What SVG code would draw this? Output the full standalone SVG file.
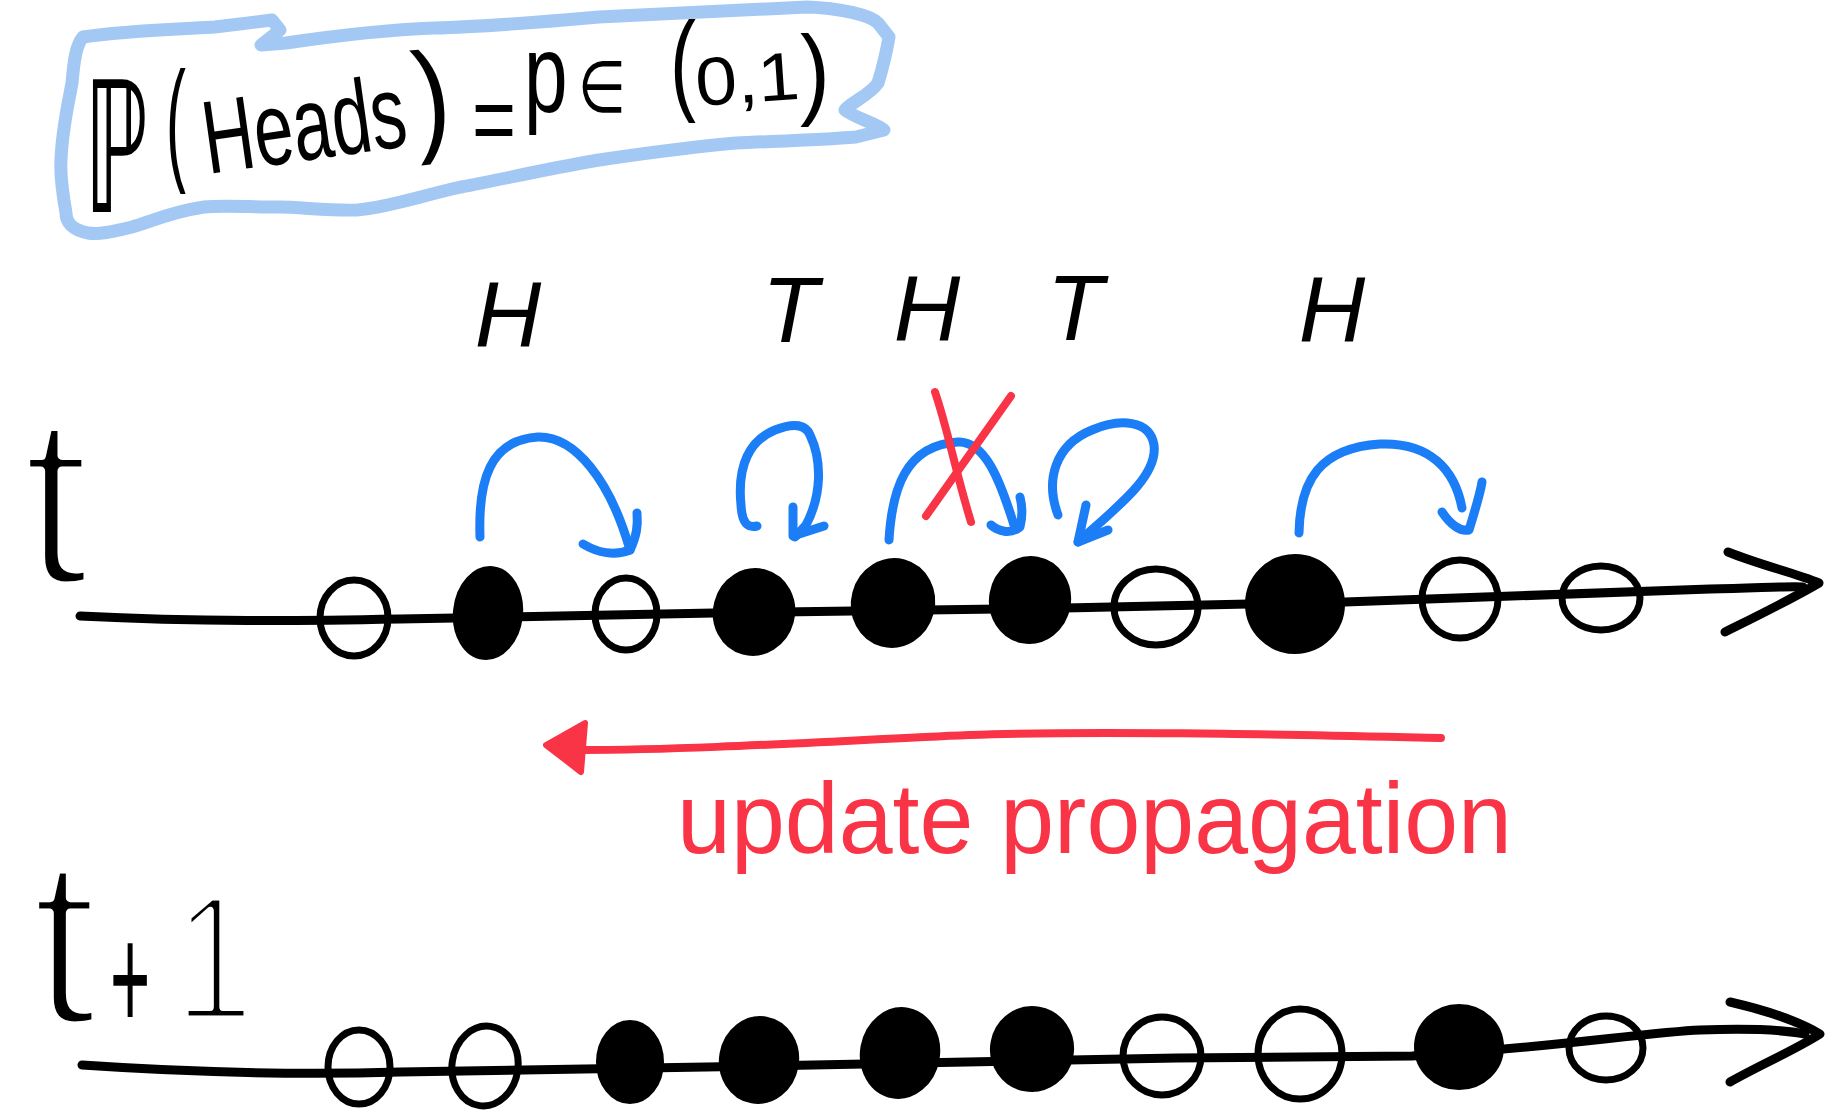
<svg xmlns="http://www.w3.org/2000/svg" width="1845" height="1120" viewBox="0 0 1845 1120">
<style>
.bg{fill:#ffffff}
.box{fill:none;stroke:#a3c8f4;stroke-width:13;stroke-linejoin:round;stroke-linecap:round}
.hw{font-family:"Liberation Sans","DejaVu Sans",sans-serif;fill:#000}
.thin{stroke:#fff;stroke-width:9;stroke-linejoin:round}
.it{font-family:"Liberation Sans","DejaVu Sans",sans-serif;font-style:italic;font-size:92px;fill:#000;text-anchor:middle}
.axis{fill:none;stroke:#000;stroke-width:9;stroke-linecap:round;stroke-linejoin:round}
.open{fill:none;stroke:#000;stroke-width:7}
.full{fill:#000;stroke:#000;stroke-width:4}
.blue{fill:none;stroke:#1b7ef6;stroke-width:9;stroke-linecap:round;stroke-linejoin:round}
.red{fill:none;stroke:#f93447;stroke-width:8;stroke-linecap:round;stroke-linejoin:round}
.redtxt{font-family:"Liberation Sans","DejaVu Sans",sans-serif;font-size:100px;fill:#f93447}
</style>
<rect class="bg" x="0" y="0" width="1845" height="1120"/>

<g id="formula">
<path class="box" d="M83,37 C120,31 180,29 215,27 L272,20 L280,30 L261,45 L286,43 C320,38 380,30 434,28 C480,27 520,24 599,17 C650,14 720,11 807,7 C840,8 870,15 878,23 L889,37 C886,55 882,70 878,83 C870,95 850,103 845,110 C855,118 878,124 884,130 L856,137 C820,140 780,141 736,143 C680,148 640,154 599,160 C540,170 500,180 461,187 C420,196 390,207 357,210 C330,211 300,207 280,207 C250,207 220,205 204,207 C170,212 150,222 132,227 C115,231 100,235 88,233 C72,230 66,222 66,213 C62,190 60,175 61,160 C62,130 68,105 72,83 C74,60 76,45 83,37 Z"/>
<text class="hw" x="0" y="0" font-size="182" transform="translate(84 212) scale(0.5 1)">ℙ</text>
<text class="hw" x="0" y="0" font-size="136" transform="translate(166 166) scale(0.44 1)">(</text>
<text class="hw" x="208" y="174" font-size="104" textLength="204" lengthAdjust="spacingAndGlyphs" transform="rotate(-8 208 174)">Heads</text>
<text class="hw" x="418" y="140" font-size="124" textLength="36" lengthAdjust="spacingAndGlyphs" transform="rotate(-6 418 140)">)</text>
<text class="hw" x="472" y="152" font-size="96" textLength="44" lengthAdjust="spacingAndGlyphs">=</text>
<text class="hw" x="0" y="0" font-size="112" transform="translate(524 112) scale(0.7 1)">p</text>
<text class="hw" x="578" y="112" font-size="72" textLength="48" lengthAdjust="spacingAndGlyphs">∈</text>
<text class="hw" x="670" y="100" font-size="112" textLength="26" lengthAdjust="spacingAndGlyphs">(</text>
<text class="hw" x="697" y="106" font-size="68" textLength="104" lengthAdjust="spacingAndGlyphs" transform="rotate(-4 697 106)">0,1</text>
<text class="hw" x="800" y="106" font-size="100" textLength="30" lengthAdjust="spacingAndGlyphs">)</text>
</g>

<g id="coin-labels">
<text class="it" x="508" y="347">H</text>
<text class="it" x="790" y="342">T</text>
<text class="it" x="927" y="341">H</text>
<text class="it" x="1075" y="340">T</text>
<text class="it" x="1332" y="342">H</text>
</g>

<g id="label-t">
<text class="hw thin" x="22" y="584" font-size="244">t</text>
</g>
<g id="label-t1">
<text class="hw thin" x="31" y="1024" font-size="240">t</text>
<text class="hw" x="0" y="0" font-size="150" transform="translate(110 1030) scale(0.46 1)">+</text>
<text class="hw thin" x="0" y="0" font-size="180" transform="translate(174 1020) scale(0.8 1)">1</text>
</g>

<g id="connectors">
<path class="axis" d="M80,616 C200,622 300,621 400,619 L714,613 L1065,608 L1345,602 C1500,597 1650,590 1710,589 C1760,588 1790,586 1803,587"/>
<path class="axis" d="M1728,552 C1760,565 1795,573 1819,583 C1790,600 1755,617 1725,632"/>
<path class="axis" d="M82,1065 C200,1073 300,1075 400,1072 L706,1067 L1177,1058 L1412,1056 C1530,1050 1650,1032 1700,1030 C1760,1028 1790,1031 1805,1034"/>
<path class="axis" d="M1730,1002 C1765,1010 1800,1022 1820,1034 C1795,1050 1760,1065 1730,1082"/>

<path class="blue" d="M480,537 C478,480 490,440 538,437 C575,436 610,480 630,550"/>
<path class="blue" d="M583,544 C598,553 615,556 630,550 C637,535 638,525 637,513"/>
<path class="blue" d="M757,526 C748,528 742,524 741,505 C737,465 750,440 775,430 C795,422 806,425 810,435 C822,460 822,495 806,525 L795,537"/>
<path class="blue" d="M793,507 L793,536 L824,526"/>
<path class="blue" d="M889,540 C892,490 905,445 958,442 C985,441 1000,480 1014,525"/>
<path class="blue" d="M991,525 C998,531 1010,535 1020,527 C1023,515 1022,505 1020,497"/>
<path class="blue" d="M1058,515 C1045,480 1055,445 1092,430 C1120,418 1150,420 1154,445 C1158,475 1120,505 1078,542"/>
<path class="blue" d="M1086,505 L1078,542 L1108,530"/>
<path class="blue" d="M1299,533 C1300,480 1320,448 1380,444 C1430,442 1455,470 1462,508"/>
<path class="blue" d="M1442,512 C1450,524 1460,532 1469,530 C1475,510 1480,495 1482,482"/>

<path class="red" d="M935,392 C948,430 955,470 971,522"/>
<path class="red" d="M1011,396 L926,516"/>

<path class="red" stroke-width="9" d="M1441,738 C1300,735 1100,730 969,735 C850,740 700,750 580,750"/>
<path fill="#f93447" stroke="#f93447" stroke-width="6" stroke-linejoin="round" d="M585,723 L546,745 L581,772 Z"/>
</g>

<g id="row-t">
<g id="t-n1"><ellipse class="open" cx="354" cy="618" rx="34" ry="38"/></g>
<g id="t-n2"><ellipse class="full" cx="488" cy="613" rx="33" ry="45" transform="rotate(6 488 613)"/></g>
<g id="t-n3"><ellipse class="open" cx="626" cy="614" rx="31" ry="36"/></g>
<g id="t-n4"><ellipse class="full" cx="754" cy="612" rx="39" ry="42" transform="rotate(15 754 612)"/></g>
<g id="t-n5"><ellipse class="full" cx="893" cy="603" rx="40" ry="43" transform="rotate(15 893 603)"/></g>
<g id="t-n6"><ellipse class="full" cx="1030" cy="600" rx="39" ry="42" transform="rotate(10 1030 600)"/></g>
<g id="t-n7"><ellipse class="open" cx="1156" cy="607" rx="42" ry="38"/></g>
<g id="t-n8"><ellipse class="full" cx="1295" cy="604" rx="48" ry="48"/></g>
<g id="t-n9"><ellipse class="open" cx="1460" cy="599" rx="38" ry="39"/></g>
<g id="t-n10"><ellipse class="open" cx="1601" cy="598" rx="39" ry="32"/></g>
</g>

<g id="row-t1">
<g id="t1-n1"><ellipse class="open" cx="359" cy="1067" rx="31" ry="37"/></g>
<g id="t1-n2"><ellipse class="open" cx="485" cy="1066" rx="33" ry="40" transform="rotate(8 485 1066)"/></g>
<g id="t1-n3"><ellipse class="full" cx="630" cy="1062" rx="32" ry="40"/></g>
<g id="t1-n4"><ellipse class="full" cx="759" cy="1060" rx="38" ry="42" transform="rotate(10 759 1060)"/></g>
<g id="t1-n5"><ellipse class="full" cx="900" cy="1053" rx="38" ry="44" transform="rotate(10 900 1053)"/></g>
<g id="t1-n6"><ellipse class="full" cx="1032" cy="1049" rx="40" ry="41" transform="rotate(10 1032 1049)"/></g>
<g id="t1-n7"><ellipse class="open" cx="1162" cy="1056" rx="39" ry="39"/></g>
<g id="t1-n8"><ellipse class="open" cx="1300" cy="1054" rx="42" ry="45"/></g>
<g id="t1-n9"><ellipse class="full" cx="1459" cy="1047" rx="43" ry="41"/></g>
<g id="t1-n10"><ellipse class="open" cx="1606" cy="1048" rx="37" ry="32"/></g>
</g>

<g id="update-label">
<text class="redtxt" x="677" y="853" textLength="835" lengthAdjust="spacingAndGlyphs">update propagation</text>
</g>
</svg>
